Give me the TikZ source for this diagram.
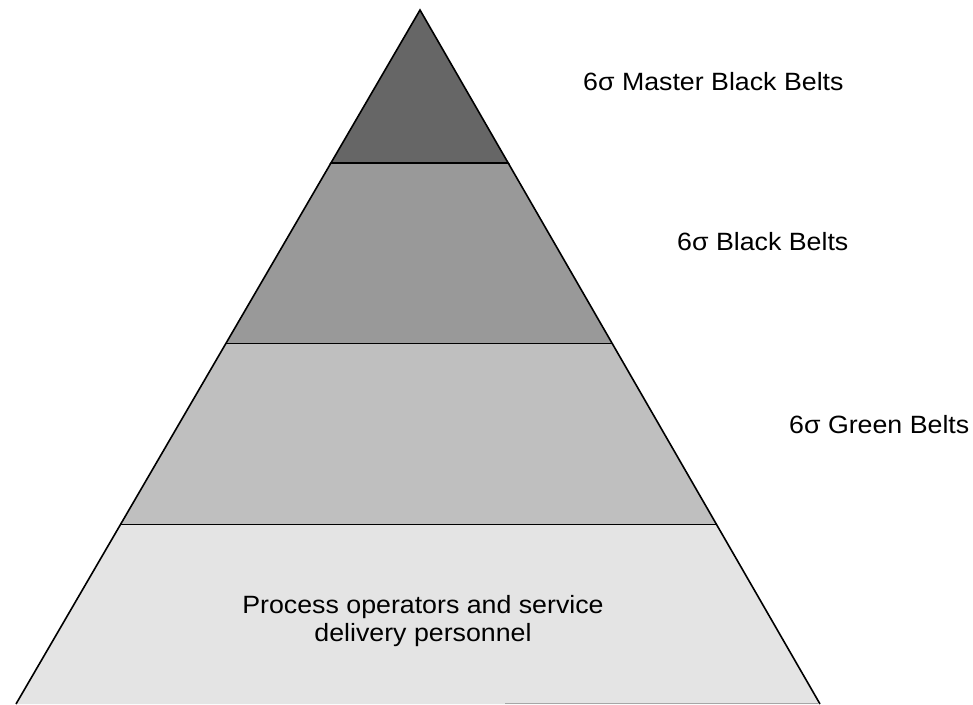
\documentclass[tikz,border=0pt]{standalone}
\usepackage{fontspec}
\setmainfont{Liberation Sans}
\definecolor{lay1}{gray}{0.40}
\definecolor{lay2}{gray}{0.60}
\definecolor{lay3}{gray}{0.75}
\definecolor{lay4}{gray}{0.895}
\begin{document}
\begin{tikzpicture}[x=1pt,y=-1pt,
  layer/.style={draw=black, line width=1.6pt, line join=miter},
  lbl/.style={font=\fontsize{25}{30}\selectfont, inner sep=0pt, anchor=west, xscale=1.07, transform shape},
  body/.style={font=\fontsize{25}{28}\selectfont, align=center, inner sep=0pt, xscale=1.07, transform shape}]
\useasboundingbox (0,0) rectangle (973,704);
% apex (420,10); left base (16,704); right base (820,704)
\coordinate (A) at (420,10);
\path (A) -- (16,704) coordinate[pos=0.2205] (L1) coordinate[pos=0.4798] (L2) coordinate[pos=0.7406] (L3) coordinate (L4);
\path (A) -- (820,704) coordinate[pos=0.2205] (R1) coordinate[pos=0.4798] (R2) coordinate[pos=0.7406] (R3) coordinate (R4);
\fill[lay4] (L3) -- (L4) -- (R4) -- (R3) -- cycle;
\draw[gray!70, line width=1pt] (505,703.5) -- (818,703.5);
\draw[layer] (L4) -- (L3) -- (R3) -- (R4);
\fill[lay3] (L2) -- (L3) -- (R3) -- (R2) -- cycle;
\draw[layer] (L2) -- (L3) (R3) -- (R2) (L2) -- (R2);
\fill[lay2] (L1) -- (L2) -- (R2) -- (R1) -- cycle;
\draw[layer] (L1) -- (L2) (R2) -- (R1) (L1) -- (R1);
\fill[lay1] (A) -- (L1) -- (R1) -- cycle;
\draw[layer] (L1) -- (A) -- (R1) -- cycle;
\node[lbl] (t1) at (583,82) {6σ Master Black Belts};
\node[lbl] (t2) at (677,242) {6σ Black Belts};
\node[lbl] (t3) at (789,425) {6σ Green Belts};
\node[body] (t4) at (423,621) {Process operators and service\\delivery personnel};
\end{tikzpicture}
\end{document}
